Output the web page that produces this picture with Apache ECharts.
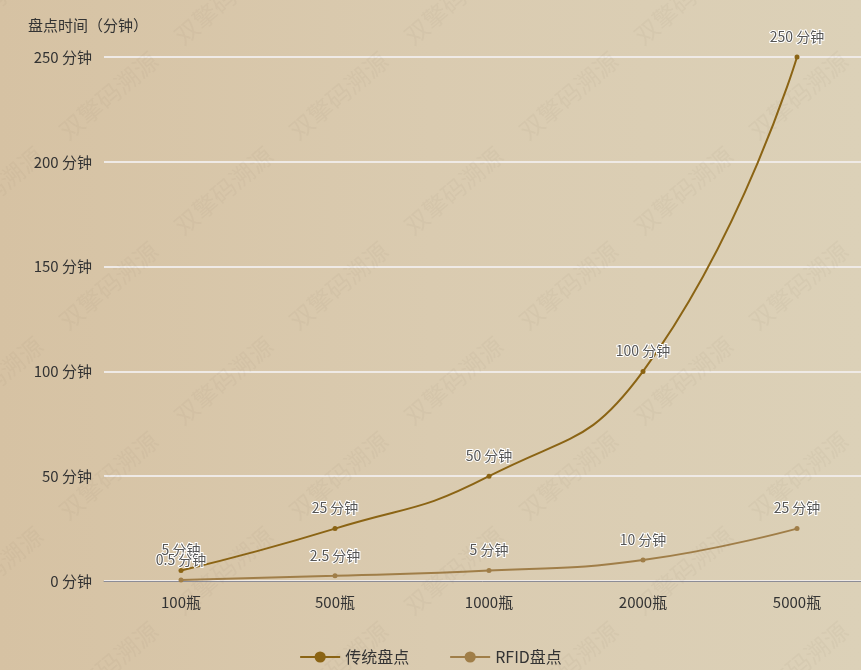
<!DOCTYPE html>
<html>
<head>
<meta charset="utf-8">
<script src="https://cdn.jsdelivr.net/npm/echarts@6/dist/echarts.min.js"></script>
<style>
	html, body { margin: 0; padding: 0; }
	#main { width: 861px; height: 670px; background: linear-gradient(90deg, #d6c2a3 0%, #dacbb0 50%, #dcd1b8 100%); }
</style>
</head>
<body>
<div id="main"></div>
<script>
	var categories = ['100瓶', '500瓶', '1000瓶', '2000瓶', '5000瓶'];
	var traditional = [5, 25, 50, 100, 250];
	var rfid = [0.5, 2.5, 5, 10, 25];
	var yTicks = [0, 50, 100, 150, 200, 250];

	var font = '"Noto Sans CJK SC", "Noto Sans", sans-serif';

	// faint watermark
	var marks = [];
	for (var r = 0; r < 8; r++) {
		for (var c = 0; c < 5; c++) {
			marks.push({
				type: 'text',
				x: c * 230 + (r % 2) * 115 - 60,
				y: r * 95 + 30,
				rotation: Math.PI / 4.5,
				silent: true,
				z: 100,
				style: {
					text: '双擎码溯源',
					fill: 'rgba(120,100,70,0.05)',
					font: '24px ' + font
				}
			});
		}
	}

	var labelStyle = {
		show: true,
		position: 'top',
		distance: 11,
		formatter: '{c} 分钟',
		color: '#555',
		fontSize: 14,
		fontFamily: font,
		textBorderColor: '#fff',
		textBorderWidth: 2
	};

	var chart = echarts.init(document.getElementById('main'));
	chart.setOption({
		textStyle: { fontFamily: font },
		graphic: marks,
		grid: {
			left: 104,
			top: 57,
			width: 770,
			height: 524,
			outerBoundsMode: 'none'
		},
		legend: {
			bottom: 0,
			left: 'center',
			itemWidth: 40,
			itemHeight: 14,
			itemGap: 40,
			textStyle: { color: '#333', fontSize: 16, fontFamily: font },
			data: ['传统盘点', 'RFID盘点']
		},
		xAxis: {
			type: 'category',
			data: categories,
			axisLine: { lineStyle: { color: '#8c8c96', width: 1 } },
			axisTick: { show: false },
			axisLabel: { color: '#333', fontSize: 15, margin: 14 }
		},
		yAxis: {
			type: 'value',
			min: 0,
			max: yTicks[yTicks.length - 1],
			interval: 50,
			name: '盘点时间（分钟）',
			nameLocation: 'end',
			nameGap: 24,
			nameTextStyle: { color: '#333', fontSize: 15, align: 'left', padding: [0, 0, 0, -76] },
			axisLine: { show: false },
			axisTick: { show: false },
			axisLabel: { color: '#333', fontSize: 15, margin: 12, formatter: '{value} 分钟' },
			splitLine: { lineStyle: { color: '#efeae6', width: 2 } }
		},
		series: [{
			name: '传统盘点',
			type: 'line',
			smooth: true,
			data: traditional,
			symbol: 'circle',
			symbolSize: 5,
			lineStyle: { width: 2, color: '#8b6414' },
			itemStyle: { color: '#8b6414' },
			label: labelStyle
		}, {
			name: 'RFID盘点',
			type: 'line',
			smooth: true,
			data: rfid,
			symbol: 'circle',
			symbolSize: 5,
			lineStyle: { width: 2, color: '#a07e48' },
			itemStyle: { color: '#a07e48' },
			label: labelStyle
		}]
	});
</script>
</body>
</html>
